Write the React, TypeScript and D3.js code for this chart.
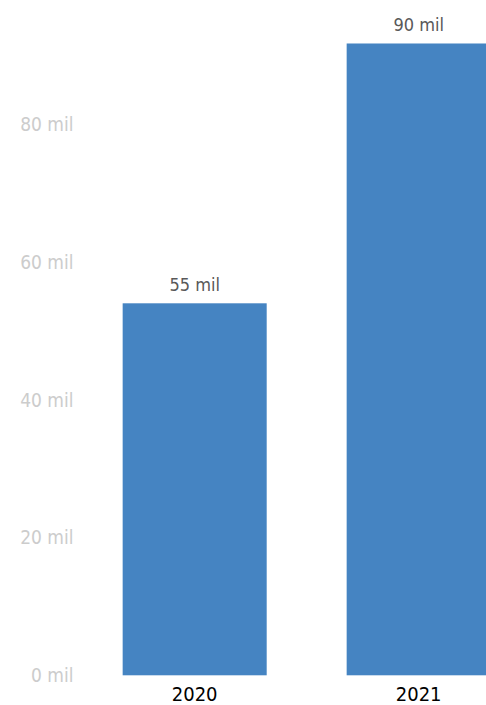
import React from "react";
import * as d3 from "d3";

const categories = ["2020", "2021"];
const values = [54.05, 91.8];
const valueLabels = ["55 mil", "90 mil"];
const yTicks = [0, 20, 40, 60, 80];
const yTickLabels = ["0 mil", "20 mil", "40 mil", "60 mil", "80 mil"];

const W = 486;
const H = 705;
const FONT = "'DejaVu Sans Condensed', 'Open Sans', sans-serif";

export default function App() {
  const y = d3.scaleLinear().domain([0, 80]).range([675.3, 124.7]);
  const x = d3
    .scaleBand<string>()
    .domain(categories)
    .range([80.1, 80.1 + 224 * (2 - 0.357 + 2 * 0.19)])
    .paddingInner(0.357)
    .paddingOuter(0.19);

  return (
    <div style={{ position: "absolute", left: 0, top: 0 }}>
      <svg width={W} height={H} style={{ display: "block", background: "#fff" }}>
        {yTicks.map((t, i) => (
          <text
            key={t}
            x={73.5}
            y={y(t)}
            dy="0.35em"
            textAnchor="end"
            fontFamily={FONT}
            fontSize={19}
            fill="#cccccc"
          >
            {yTickLabels[i]}
          </text>
        ))}
        {categories.map((c, i) => {
          const x0 = x(c) as number;
          const bw = x.bandwidth();
          return (
            <g key={c}>
              <rect x={x0} y={y(values[i])} width={bw} height={y(0) - y(values[i])} fill="#4584c2" />
              <text
                x={x0 + bw / 2}
                y={y(values[i]) - 12.6}
                textAnchor="middle"
                fontFamily={FONT}
                fontSize={18}
                fill="#595959"
              >
                {valueLabels[i]}
              </text>
              <text
                x={x0 + bw / 2}
                y={701.3}
                textAnchor="middle"
                fontFamily={FONT}
                fontSize={20}
                fill="#000000"
              >
                {c}
              </text>
            </g>
          );
        })}
      </svg>
    </div>
  );
}
